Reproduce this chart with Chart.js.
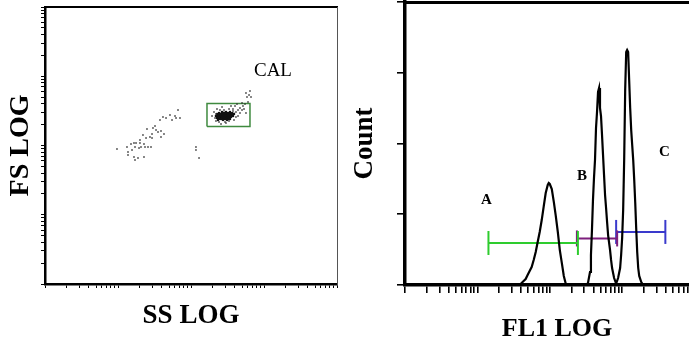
<!DOCTYPE html>
<html>
<head>
<meta charset="utf-8">
<script src="https://cdn.jsdelivr.net/npm/chart.js@4.4.1/dist/chart.umd.min.js"></script>
<style>
  html, body { margin: 0; padding: 0; background: #fff; overflow: hidden; width: 689px; height: 341px; }
  #scatterBox { position: absolute; left: 0; top: 0; width: 340px; height: 341px; }
  #histBox { position: absolute; left: 340px; top: 0; width: 380px; height: 341px; }
</style>
</head>
<body>
<div id="scatterBox"><canvas id="scatterChart"></canvas></div>
<div id="histBox"><canvas id="histChart"></canvas></div>
<script>
// values are in log decades (axes are SS LOG / FS LOG / FL1 LOG)

// debris band, lower left
const BAND_SS = [0.986, 1.123, 1.137, 1.137, 1.178, 1.192, 1.219, 1.247, 1.301, 1.233,
  1.288, 1.315, 1.356, 1.370, 1.411, 1.452, 1.219, 1.274, 1.356, 1.233,
  1.301, 1.342, 1.384, 1.397, 1.438, 1.466, 1.479, 1.507, 1.521, 1.548,
  1.589, 1.630, 1.589, 1.466, 1.575, 1.616, 1.658, 1.712, 1.740, 1.781,
  1.795, 1.822, 1.849, 2.068, 2.068, 2.110];
const BAND_FS = [1.949, 1.978, 1.906, 1.863, 2.022, 1.935, 2.036, 2.036, 2.036, 1.978,
  1.964, 1.978, 2.022, 1.978, 1.978, 1.978, 1.834, 1.819, 1.834, 1.791,
  2.079, 2.152, 2.108, 2.238, 2.123, 2.166, 2.253, 2.282, 2.224, 2.195,
  2.209, 2.166, 2.123, 2.108, 2.368, 2.412, 2.397, 2.440, 2.368, 2.426,
  2.397, 2.513, 2.397, 1.978, 1.935, 1.819];

// calibration beads (CAL): dense core, then the looser halo
const CAL_CORE_SS = [
  2.425, 2.479, 2.534,
  2.384, 2.452, 2.507, 2.562, 2.425, 2.479, 2.534,
  2.356, 2.411, 2.466, 2.521, 2.589, 2.384, 2.438, 2.493, 2.548,
  2.384, 2.438, 2.493, 2.548, 2.411, 2.466, 2.521, 2.575,
  2.342, 2.370, 2.411, 2.466, 2.521, 2.575, 2.438, 2.493, 2.548,
  2.397, 2.438, 2.493, 2.548, 2.370, 2.425, 2.466, 2.521,
  2.356, 2.384, 2.425, 2.479, 2.534, 2.452, 2.507,
  2.411, 2.452, 2.507, 2.384, 2.479, 2.534,
  2.370, 2.438, 2.493];
const CAL_CORE_FS = [
  2.484, 2.484, 2.484,
  2.469, 2.471, 2.469, 2.467, 2.469, 2.470, 2.468,
  2.455, 2.456, 2.454, 2.455, 2.457, 2.455, 2.453, 2.455, 2.456,
  2.440, 2.441, 2.440, 2.439, 2.440, 2.442, 2.440, 2.438,
  2.426, 2.425, 2.427, 2.426, 2.424, 2.426, 2.426, 2.428, 2.426,
  2.412, 2.411, 2.412, 2.413, 2.412, 2.412, 2.410, 2.412,
  2.397, 2.398, 2.397, 2.396, 2.397, 2.397, 2.399,
  2.383, 2.383, 2.382, 2.384, 2.383, 2.383,
  2.368, 2.369, 2.368];
const CAL_HALO_SS = [
  2.315, 2.329, 2.342, 2.384, 2.466, 2.521, 2.589, 2.616, 2.616, 2.644,
  2.575, 2.521, 2.452, 2.397, 2.356, 2.425, 2.548, 2.603, 2.671, 2.699,
  2.671, 2.644, 2.726, 2.753, 2.411, 2.479, 2.342, 2.288, 2.575, 2.630,
  2.699, 2.740, 2.781, 2.767, 2.795, 2.808, 2.753, 2.822, 2.712];
const CAL_HALO_FS = [
  2.484, 2.397, 2.354, 2.339, 2.339, 2.354, 2.368, 2.412, 2.484, 2.513,
  2.527, 2.527, 2.513, 2.513, 2.527, 2.556, 2.570, 2.570, 2.542, 2.513,
  2.469, 2.426, 2.527, 2.469, 2.310, 2.325, 2.455, 2.426, 2.498, 2.599,
  2.614, 2.599, 2.628, 2.700, 2.729, 2.787, 2.758, 2.700, 2.570];

const CAL_GATE_SS = [2.219, 2.808];
const CAL_GATE_FS = [2.274, 2.607];

// FL1 histogram
const FL1_LOG = [
  1.583, 1.611, 1.639, 1.667, 1.694, 1.722, 1.750, 1.778, 1.806, 1.833,
  1.861, 1.889, 1.917, 1.944, 1.972, 1.986, 2.000, 2.028, 2.056, 2.083,
  2.111, 2.139, 2.167, 2.194, 2.222, 2.250,
  2.500, 2.528, 2.556, 2.569, 2.583, 2.597, 2.611, 2.625, 2.639, 2.653,
  2.667, 2.681, 2.694, 2.708, 2.722, 2.736, 2.750, 2.764, 2.778, 2.792,
  2.806, 2.833, 2.847, 2.861, 2.889, 2.917,
  2.944, 2.972, 2.986, 3.000, 3.014, 3.028, 3.042, 3.056, 3.069, 3.083,
  3.097, 3.111, 3.125, 3.139, 3.153, 3.167, 3.181, 3.194, 3.208, 3.222,
  3.236, 3.264, 3.292];
const COUNT = [
  0, 1.4, 2.8, 4.2, 7.1, 9.9, 12.7, 17.7, 23.3, 30.4,
  37.5, 45.9, 55.8, 65.0, 70.7, 72.1, 71.4, 67.8, 58.7, 48.8,
  37.5, 24.7, 15.5, 6.4, 0.7, 0,
  0, 1.4, 9.2, 21.2, 38.9, 60.1, 75.6, 88.3, 111.0, 122.3,
  136.4, 139.2, 125.1, 119.4, 106.0, 91.9, 77.7, 63.6, 54.4, 44.5,
  35.3, 24.7, 17.7, 12.0, 4.9, 1.0,
  4.9, 12.0, 21.2, 33.2, 53.0, 88.3, 137.8, 164.7, 166.1, 164.7,
  144.9, 125.1, 109.5, 98.9, 88.3, 74.2, 58.0, 40.3, 23.3, 12.0,
  6.4, 2.1, 0];

// histogram gates
const GATE_NAMES = ['A', 'B', 'C'];
const GATE_LO = [1.153, 2.375, 2.917];
const GATE_HI = [2.389, 2.931, 3.597];
const GATE_LEVEL = [29.7, 32.9, 37.5];

// minor log tick positions (1..9 per decade)
const DECADES = [0, 1, 2, 3];
const MANTISSA = [1, 2, 3, 4, 5, 6, 7, 8, 9];

function logTicks() {
  const t = [];
  DECADES.forEach(d => MANTISSA.forEach(m => t.push({ value: d + Math.log10(m) })));
  t.push({ value: 4 });
  return t;
}

const SERIF = '"Liberation Serif", "Times New Roman", serif';

const textLabels = {
  id: 'textLabels',
  afterDatasetsDraw(chart, args, opts) {
    const { ctx } = chart;
    const xs = chart.scales.x, ys = chart.scales.y;
    ctx.save();
    ctx.fillStyle = '#000';
    ctx.textAlign = 'center';
    ctx.textBaseline = 'middle';
    opts.items.forEach(it => {
      ctx.font = it.font;
      ctx.fillText(it.text, xs.getPixelForValue(it.x), ys.getPixelForValue(it.y));
    });
    ctx.restore();
  }
};

// frame-only axis (top / right edge of the box)
function edgeAxis(position, width, color) {
  return {
    position: position,
    grid: { display: false },
    ticks: { display: false },
    border: { display: true, color: color, width: width },
    afterFit: s => { if (s.isHorizontal()) s.height = 0; else s.width = 0; }
  };
}

// ---- left: FS vs SS dot plot ----
const toPts = (xs, ys) => xs.map((v, i) => ({ x: v, y: ys[i] }));
const gateRect = [
  { x: CAL_GATE_SS[0], y: CAL_GATE_FS[0] }, { x: CAL_GATE_SS[1], y: CAL_GATE_FS[0] },
  { x: CAL_GATE_SS[1], y: CAL_GATE_FS[1] }, { x: CAL_GATE_SS[0], y: CAL_GATE_FS[1] },
  { x: CAL_GATE_SS[0], y: CAL_GATE_FS[0] }
];

new Chart(document.getElementById('scatterChart'), {
  type: 'scatter',
  data: {
    datasets: [
      { data: toPts(BAND_SS, BAND_FS), pointStyle: 'rect', pointRadius: 1.1, borderWidth: 0, backgroundColor: '#333' },
      { data: toPts(CAL_HALO_SS, CAL_HALO_FS), pointStyle: 'rect', pointRadius: 1.1, borderWidth: 0, backgroundColor: '#333' },
      { data: toPts(CAL_CORE_SS, CAL_CORE_FS), pointStyle: 'rect', pointRadius: 1.6, borderWidth: 0, backgroundColor: '#111' },
      { data: gateRect, showLine: true, pointRadius: 0, borderColor: '#3f8a3f', borderWidth: 1.5, fill: false }
    ]
  },
  plugins: [textLabels],
  options: {
    responsive: true,
    maintainAspectRatio: false,
    animation: false,
    layout: { autoPadding: false, padding: { left: 0, top: 7, right: 3, bottom: 0 } },
    scales: {
      x: {
        type: 'linear', min: 0, max: 4,
        afterBuildTicks: s => { s.ticks = logTicks(); },
        afterFit: s => { s.height = 57; },
        ticks: { display: false },
        grid: { drawOnChartArea: false, drawTicks: true, tickLength: 4, color: '#000', lineWidth: 1 },
        border: { color: '#000', width: 2.5 },
        title: { display: true, text: 'SS LOG', color: '#000',
          font: { family: SERIF, size: 27, weight: 'bold', lineHeight: 1 }, padding: { top: 0, bottom: 11 } }
      },
      y: {
        type: 'linear', min: 0, max: 4,
        afterBuildTicks: s => { s.ticks = logTicks(); },
        afterFit: s => { s.width = 45; },
        ticks: { display: false },
        grid: { drawOnChartArea: false, drawTicks: true, tickLength: 4, color: '#000', lineWidth: 1 },
        border: { color: '#000', width: 2.5 },
        title: { display: true, text: 'FS LOG', color: '#000',
          font: { family: SERIF, size: 28, weight: 'bold', lineHeight: 1 }, padding: { top: 7, bottom: 0 } }
      },
      x2: edgeAxis('top', 2, '#000'),
      y2: edgeAxis('right', 1, '#555')
    },
    plugins: {
      legend: { display: false },
      tooltip: { enabled: false },
      textLabels: { items: [{ text: 'CAL', x: 3.123, y: 3.069, font: '19px ' + SERIF }] }
    }
  }
});

// ---- right: FL1 histogram ----
const GATE_COLORS = ['#2ecc2e', '#7d1f7d', '#3a3acc'];
const CAP_SIZE = [12, 8, 12];
const gateSets = GATE_NAMES.map((n, i) => ({
  label: n,
  data: [{ x: GATE_LO[i], y: GATE_LEVEL[i] }, { x: GATE_HI[i], y: GATE_LEVEL[i] }],
  showLine: true,
  borderColor: GATE_COLORS[i],
  borderWidth: 2,
  pointStyle: 'line',
  rotation: 90,
  pointRadius: CAP_SIZE[i],
  pointBorderColor: GATE_COLORS[i],
  pointBorderWidth: 2
}));

new Chart(document.getElementById('histChart'), {
  type: 'scatter',
  data: {
    datasets: [
      {
        label: 'FL1',
        data: toPts(FL1_LOG, COUNT),
        showLine: true,
        borderColor: '#000',
        borderWidth: 2.2,
        pointRadius: 0,
        tension: 0
      },
      ...gateSets
    ]
  },
  plugins: [textLabels],
  options: {
    responsive: true,
    maintainAspectRatio: false,
    animation: false,
    layout: { autoPadding: false, padding: { left: 0, top: 2, right: 11, bottom: 0 } },
    scales: {
      x: {
        type: 'linear', min: 0, max: 4.2,
        afterBuildTicks: s => { s.ticks = logTicks(); },
        afterFit: s => { s.height = 56; },
        ticks: { display: false },
        grid: { drawOnChartArea: false, drawTicks: true, tickLength: 8, color: '#000', lineWidth: 1.6 },
        border: { color: '#000', width: 3.5 },
        title: { display: true, text: 'FL1 LOG', color: '#000',
          font: { family: SERIF, size: 26, weight: 'bold', lineHeight: 0.9 }, padding: { top: 0, bottom: 0 } }
      },
      y: {
        type: 'linear', min: 0, max: 200,
        ticks: { display: false, stepSize: 50 },
        afterFit: s => { s.width = 65; },
        grid: { drawOnChartArea: false, drawTicks: true, tickLength: 8, color: '#000', lineWidth: 1.6 },
        border: { color: '#000', width: 3.5 },
        title: { display: true, text: 'Count', color: '#000',
          font: { family: SERIF, size: 27, weight: 'bold', lineHeight: 1 }, padding: { top: 12, bottom: 0 } }
      },
      x2: edgeAxis('top', 3, '#000')
    },
    plugins: {
      legend: { display: false },
      tooltip: { enabled: false },
      textLabels: {
        items: [
          { text: GATE_NAMES[0], x: 1.125, y: 60.1, font: 'bold 15px ' + SERIF },
          { text: GATE_NAMES[1], x: 2.444, y: 77.0, font: 'bold 15px ' + SERIF },
          { text: GATE_NAMES[2], x: 3.583, y: 94.0, font: 'bold 15px ' + SERIF }
        ]
      }
    }
  }
});
</script>
</body>
</html>
